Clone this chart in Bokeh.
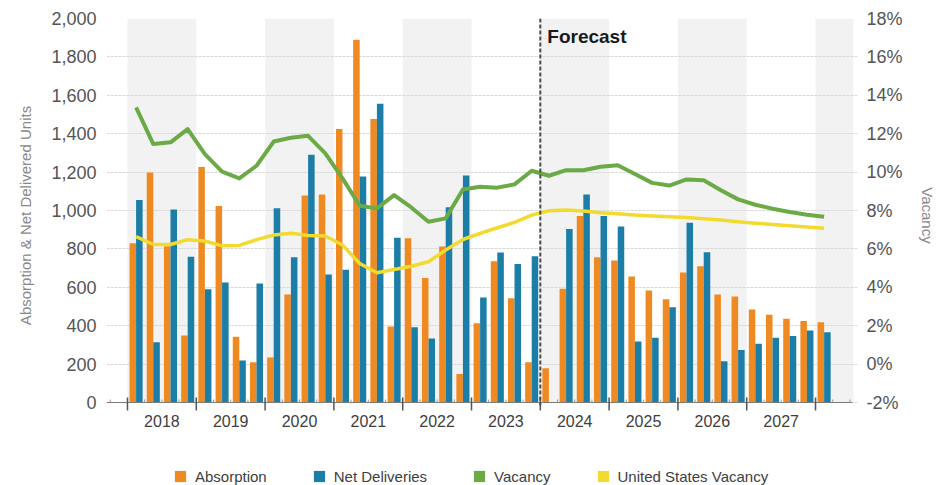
from bokeh.plotting import figure
from bokeh.layouts import column
from bokeh.models import (Range1d, LinearAxis, FixedTicker, NumeralTickFormatter,
                          PrintfTickFormatter, Label, Legend, LegendItem)
from bokeh.embed import file_html
from bokeh.resources import INLINE
import numpy as np

# Quarterly series, 2018 Q1 through 2028 Q1
years = [2018, 2019, 2020, 2021, 2022, 2023, 2024, 2025, 2026, 2027]
absorption = [830, 1198, 814, 349, 1226, 1024, 342, 210, 234, 562, 1078, 1083,
              1425, 1889, 1476, 396, 856, 649, 812, 149, 413, 736, 543, 210,
              179, 592, 972, 757, 740, 656, 583, 538, 677, 710, 562, 552,
              484, 457, 436, 424, 418]
net_deliveries = [1055, 314, 1005, 759, 590, 625, 219, 620, 1012, 757, 1290, 667,
                  691, 1177, 1556, 858, 392, 333, 1017, 1182, 547, 781, 722, 762,
                  0, 903, 1083, 972, 917, 318, 337, 496, 936, 783, 215, 274,
                  306, 337, 347, 375, 366]
vacancy = [13.37, 11.46, 11.55, 12.24, 10.94, 10.02, 9.67, 10.33, 11.59, 11.79, 11.89, 10.97,
           9.67, 8.25, 8.11, 8.80, 8.16, 7.41, 7.59, 9.09, 9.24, 9.19, 9.36, 10.07,
           9.81, 10.10, 10.10, 10.28, 10.36, 9.90, 9.44, 9.30, 9.62, 9.57, 9.06, 8.58,
           8.30, 8.09, 7.92, 7.78, 7.67]
us_vacancy = [6.64, 6.23, 6.23, 6.48, 6.41, 6.16, 6.18, 6.48, 6.72, 6.81, 6.70, 6.67,
              6.20, 5.24, 4.76, 4.93, 5.10, 5.33, 5.94, 6.49, 6.81, 7.10, 7.38, 7.76,
              7.99, 8.02, 7.97, 7.88, 7.83, 7.76, 7.71, 7.67, 7.64, 7.57, 7.50, 7.41,
              7.34, 7.27, 7.20, 7.14, 7.08]
series_names = ["Absorption", "Net Deliveries", "Vacancy", "United States Vacancy"]
forecast_start_year = 2024
left_ticks = list(range(0, 2001, 200))
right_ticks = list(range(-2, 19, 2))

FONT = "Liberation Sans"
ORANGE = "#EF8A22"
BLUE = "#1C7DA6"
GREEN = "#6BAA47"
YELLOW = "#F2DA2E"
COLORS = [ORANGE, BLUE, GREEN, YELLOW]

q = np.arange(len(absorption))          # quarter index, 0 = 2018 Q1
x_start, x_end = -1.22, 42.44
axis_end = 42.15

# the frame reaches 10 px under the zero line so the outer tick marks show
px = 2000 / 384                          # left-axis units per pixel
y_lo = -10 * px
v_lo = -2 - 10 * 20 / 384

p = figure(width=947, height=445, output_backend="svg", toolbar_location=None,
           x_range=Range1d(x_start, x_end), y_range=Range1d(y_lo, 2000),
           min_border_left=106, min_border_right=90, min_border_top=18,
           min_border_bottom=33, outline_line_color=None, background_fill_color="white")
p.extra_y_ranges = {"vac": Range1d(v_lo, 18)}

# alternating shaded year bands
band_left = [4 * (y - years[0]) for y in years[::2]] + [4 * len(years)]
band_right = [min(b + 4, 42.2) for b in band_left]
p.quad(left=band_left, right=band_right, bottom=0, top=2000,
       fill_color="#F2F2F2", line_color=None, level="image")

# gridlines
p.xgrid.visible = False
p.ygrid.ticker = FixedTicker(ticks=left_ticks)
p.ygrid.grid_line_color = "#D9D9D9"
p.ygrid.grid_line_dash = "3 1"
p.ygrid.grid_line_width = 1

# bars
p.vbar(x=q + 0.31, top=absorption, width=0.38, fill_color=ORANGE, line_color=None)
p.vbar(x=q + 0.69, top=net_deliveries, width=0.38, fill_color=BLUE, line_color=None)

# vacancy lines
p.line(q + 0.5, vacancy, y_range_name="vac", line_color=GREEN, line_width=4,
       line_join="round")
p.line(q + 0.5, us_vacancy, y_range_name="vac", line_color=YELLOW, line_width=3.5,
       line_join="round")

# category axis line with year and quarter tick marks
p.segment(x0=[x_start], y0=[0], x1=[axis_end], y1=[0], line_color="#7A7A7A", line_width=1)
year_edges = [4 * i for i in range(len(years) + 1)]
p.segment(x0=year_edges, y0=5 * px, x1=year_edges, y1=-8 * px,
          line_color="#555555", line_width=1.5)
quarter_edges = [k for k in range(-1, 43) if k % 4 != 0]
p.segment(x0=quarter_edges, y0=3 * px, x1=quarter_edges, y1=0,
          line_color="#9A9A9A", line_width=1)

# forecast divider
fx = 4 * (forecast_start_year - years[0])
p.segment(x0=[fx], y0=[2000], x1=[fx], y1=[-3 * px], line_color="#4A4A4A",
          line_width=2, line_dash="4 2")
p.add_layout(Label(x=fx, y=1906, x_offset=7, text="Forecast", text_font=FONT,
                   text_font_size="19px", text_font_style="bold", text_color="#1A1A1A",
                   text_baseline="alphabetic"))

# year labels centred in each year
xa = p.xaxis[0]
xa.ticker = FixedTicker(ticks=[4 * i + 2 for i in range(len(years))])
xa.major_label_overrides = {4 * i + 2: str(y) for i, y in enumerate(years)}
xa.axis_line_color = None
xa.major_tick_line_color = None
xa.minor_tick_line_color = None
xa.major_tick_in = 0
xa.major_tick_out = 0
xa.major_label_standoff = 2
xa.major_label_text_font = FONT
xa.major_label_text_font_size = "16px"
xa.major_label_text_color = "#404040"

# left axis
ya = p.yaxis[0]
ya.ticker = FixedTicker(ticks=left_ticks)
ya.formatter = NumeralTickFormatter(format="0,0")
ya.axis_line_color = None
ya.major_tick_line_color = None
ya.minor_tick_line_color = None
ya.major_label_standoff = 4
ya.major_label_text_font = FONT
ya.major_label_text_font_size = "18px"
ya.major_label_text_color = "#555555"
ya.axis_label = "Absorption & Net Delivered Units"
ya.axis_label_text_font = FONT
ya.axis_label_text_font_size = "15px"
ya.axis_label_text_font_style = "normal"
ya.axis_label_text_color = "#888888"
ya.axis_label_standoff = 14

# right axis
ra = LinearAxis(y_range_name="vac", ticker=FixedTicker(ticks=right_ticks),
                formatter=PrintfTickFormatter(format="%d%%"))
ra.axis_line_color = None
ra.major_tick_line_color = None
ra.minor_tick_line_color = None
ra.major_label_standoff = 3
ra.major_label_text_font = FONT
ra.major_label_text_font_size = "18px"
ra.major_label_text_color = "#555555"
ra.axis_label = "Vacancy"
ra.axis_label_text_font = FONT
ra.axis_label_text_font_size = "15px"
ra.axis_label_text_font_style = "normal"
ra.axis_label_text_color = "#888888"
ra.axis_label_standoff = 13
p.add_layout(ra, "right")

# legend strip under the chart, with square swatches (swatch glyphs sit off-canvas)
leg = figure(width=947, height=40, output_backend="svg", toolbar_location=None,
             x_range=Range1d(0, 1), y_range=Range1d(0, 1),
             x_axis_location=None, y_axis_location=None,
             min_border=0, outline_line_color=None)
leg.grid.visible = False
swatches = [leg.quad(left=[-3], right=[-2], bottom=[-3], top=[-2],
                     fill_color=c, line_color=None) for c in COLORS]
legend = Legend(items=[LegendItem(label=n, renderers=[r])
                       for n, r in zip(series_names, swatches)],
                orientation="horizontal", location=(67, 0.5),
                glyph_width=14, glyph_height=14, label_height=14,
                label_standoff=8, spacing=45, padding=0, margin=0,
                border_line_color=None, background_fill_alpha=0,
                label_text_font=FONT, label_text_font_size="15px",
                label_text_color="#404040")
leg.add_layout(legend, "center")

page = column(p, leg, spacing=0)
open("out.html", "w").write(file_html(page, INLINE))
